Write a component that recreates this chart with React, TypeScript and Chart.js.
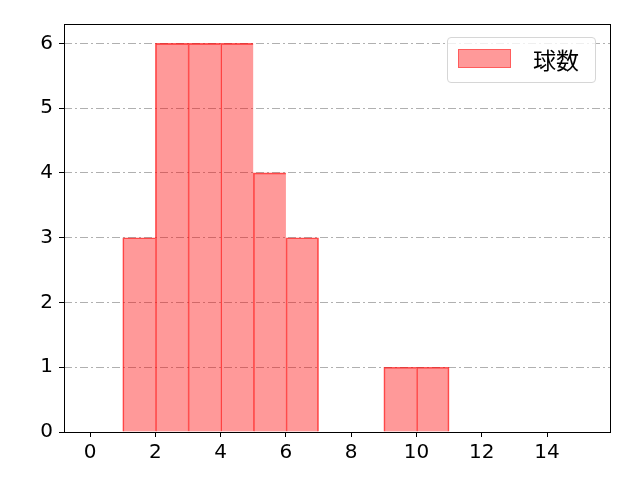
import React, { useEffect, useRef } from "react";
import { Chart, registerables } from "chart.js";

Chart.register(...registerables);

const binCenters = [1.5, 2.5, 3.5, 4.5, 5.5, 6.5, 9.5, 10.5];
const binCounts = [3, 6, 6, 6, 4, 3, 1, 1];
const xTicks = [0, 2, 4, 6, 8, 10, 12, 14];
const yTicks = [0, 1, 2, 3, 4, 5, 6];
const seriesLabel = "球数";

const TICK_FONT = "'DejaVu Sans', sans-serif";
const CJK_FONT = "'Noto Sans CJK JP', 'Noto Sans', sans-serif";

const framePlugin = {
  id: "frame",
  afterDatasetsDraw(chart: any) {
    const { ctx, chartArea } = chart;
    ctx.save();
    ctx.strokeStyle = "#000";
    ctx.lineWidth = 1;
    ctx.setLineDash([]);
    ctx.strokeRect(
      Math.round(chartArea.left) + 0.5,
      Math.round(chartArea.top) + 0.5,
      Math.round(chartArea.right - chartArea.left),
      Math.round(chartArea.bottom - chartArea.top)
    );
    ctx.restore();
  },
};

export default function App() {
  const ref = useRef<HTMLCanvasElement | null>(null);

  useEffect(() => {
    document.body.style.margin = "0";
    const canvas = ref.current;
    if (!canvas) return;
    const data = binCenters.map((x, i) => ({ x, y: binCounts[i] }));
    const chart = new Chart(canvas, {
      type: "bar",
      data: {
        datasets: [
          {
            label: seriesLabel,
            data,
            backgroundColor: "rgba(255,0,0,0.4)",
            borderColor: "rgba(255,0,0,0.65)",
            borderWidth: (ctx: any) => {
              const i = ctx.dataIndex;
              const next = binCenters[i + 1];
              const adjacent = next !== undefined && Math.abs(next - binCenters[i] - 1) < 1e-6;
              return { top: 1, left: 1, right: adjacent ? 0 : 1, bottom: 0 };
            },
            borderSkipped: false,
            barPercentage: 1,
            categoryPercentage: 1,
          } as any,
        ],
      },
      options: {
        responsive: false,
        animation: false,
        layout: { padding: { top: 24, right: 30, bottom: 0, left: 0 } },
        plugins: {
          legend: { display: false },
          tooltip: { enabled: false },
        },
        scales: {
          x: {
            type: "linear",
            min: -0.8,
            max: 15.93,
            offset: false,
            afterBuildTicks: (s: any) => {
              s.ticks = xTicks.map((v) => ({ value: v }));
            },
            afterFit: (s: any) => {
              s.height = 48;
            },
            grid: {
              offset: false,
              drawOnChartArea: false,
              drawTicks: true,
              tickLength: 5,
              tickColor: "#000",
              tickWidth: 1,
            },
            border: { display: false },
            ticks: {
              color: "#000",
              font: { family: TICK_FONT, size: 20 },
              padding: 4,
              maxRotation: 0,
              autoSkip: false,
            },
          },
          y: {
            type: "linear",
            min: 0,
            max: 6.3,
            afterBuildTicks: (s: any) => {
              s.ticks = yTicks.map((v) => ({ value: v }));
            },
            afterFit: (s: any) => {
              s.width = 64;
            },
            grid: {
              drawOnChartArea: true,
              color: "#b0b0b0",
              lineWidth: 1,
              drawTicks: true,
              tickLength: 5,
              tickColor: "#000",
              tickWidth: 1,
              tickBorderDash: [],
            } as any,
            border: { display: false, dash: [8, 3, 2, 3] },
            ticks: {
              color: "#000",
              font: { family: TICK_FONT, size: 20 },
              padding: 6,
              autoSkip: false,
            },
          },
        },
      },
      plugins: [framePlugin],
    });
    return () => chart.destroy();
  }, []);

  return (
    <div style={{ position: "relative", width: 640, height: 480 }}>
      <canvas ref={ref} width={640} height={480} style={{ display: "block", width: 640, height: 480 }} />
      <div
        style={{
          position: "absolute",
          left: 447,
          top: 37,
          width: 147,
          height: 44,
          border: "1px solid #d6d6d6",
          borderRadius: 4,
          background: "rgba(255,255,255,0.8)",
          boxSizing: "content-box",
        }}
      >
        <div
          style={{
            position: "absolute",
            left: 10,
            top: 11,
            width: 53,
            height: 19,
            background: "rgba(255,0,0,0.4)",
            border: "1px solid rgba(255,0,0,0.4)",
            boxSizing: "border-box",
          }}
        />
        <div
          style={{
            position: "absolute",
            left: 85,
            top: 5,
            fontFamily: CJK_FONT,
            fontSize: 23,
            lineHeight: "32px",
            color: "#000",
            whiteSpace: "nowrap",
          }}
        >
          {seriesLabel}
        </div>
      </div>
    </div>
  );
}
